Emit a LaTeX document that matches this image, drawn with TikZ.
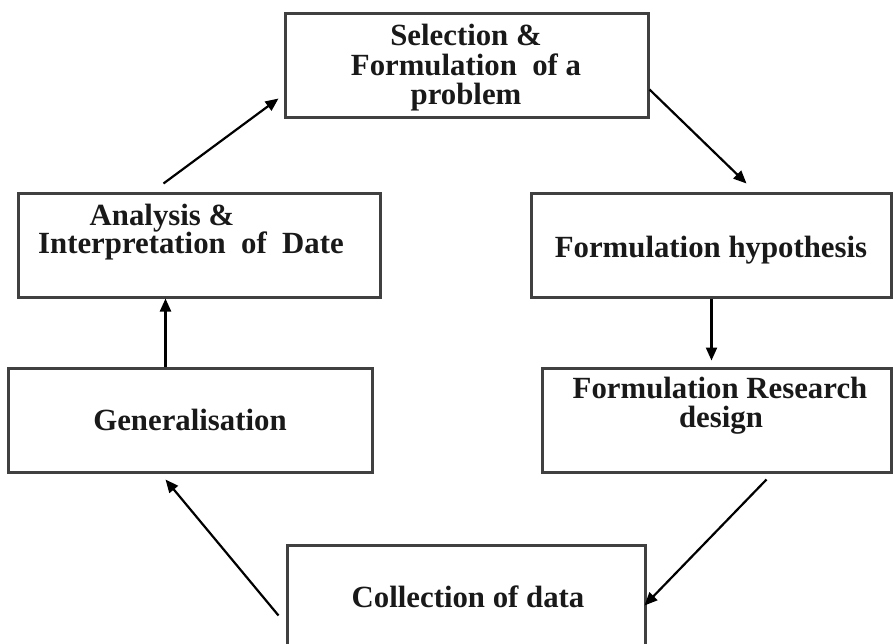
\documentclass[tikz,border=0pt]{standalone}
\usepackage{fontspec}
\setmainfont{Liberation Serif}
\usetikzlibrary{arrows.meta,calc}
\begin{document}
\begin{tikzpicture}[x=0.5pt,y=-0.5pt,
  box/.style={draw=black!75,line width=1.5pt,rectangle,inner sep=0pt},
  txt/.style={anchor=base,inner sep=0pt,font=\fontsize{15.4}{16}\selectfont\bfseries,text=black!90},
  arr/.style={line width=1.1pt,-{Triangle[length=6.5pt,width=5.5pt]}}]
\useasboundingbox (0,0) rectangle (893,643);
\clip (0,0) rectangle (893,643);
% boxes
\node[box,minimum width=181.5pt,minimum height=52pt] (top) at (466.5,65) {};
\node[box,minimum width=181pt,minimum height=52pt] (ana) at (199,245) {};
\node[box,minimum width=180pt,minimum height=52pt] (hyp) at (711,245) {};
\node[box,minimum width=182pt,minimum height=52pt] (gen) at (190,420) {};
\node[box,minimum width=174.5pt,minimum height=52pt] (res) at (716.5,420) {};
\node[box,minimum width=179pt,minimum height=67.5pt] (col) at (466,612.5) {};
% texts
\node[txt] (t1) at (466,45) {Selection \&};
\node[txt] (t2) at (466,75) {Formulation\ \ of a};
\node[txt] (t3) at (466,104) {problem};
\node[txt] (a1) at (162,225) {Analysis \&};
\node[txt] (a2) at (191,253) {Interpretation\ \ of\ \ Date};
\node[txt] (h1) at (711,257) {Formulation hypothesis};
\node[txt] (r1) at (720,398) {Formulation Research};
\node[txt] (r2) at (721,427) {design};
\node[txt] (g1) at (190,430) {Generalisation};
\node[txt] (c1) at (468,607) {Collection of data};
% arrows
\draw[arr] ($(gen.north west)+(159,0)$) -- ($(ana.south west)+(149,0)$);
\draw[arr] ($(ana.north west)+(147,-8)$) -- ($(top.south west)+(-5,-20)$);
\draw[arr] ($(top.south east)+(0,-29)$) -- ($(hyp.north west)+(217,-8)$);
\draw[arr] ($(hyp.south west)+(182,0)$) -- ($(res.north west)+(171,-6)$);
\draw[arr] ($(res.south west)+(226,6)$) -- ($(col.north west)+(359,62)$);
\draw[arr] ($(col.north west)+(-7,72)$) -- ($(gen.south west)+(159,6)$);
\end{tikzpicture}
\end{document}
